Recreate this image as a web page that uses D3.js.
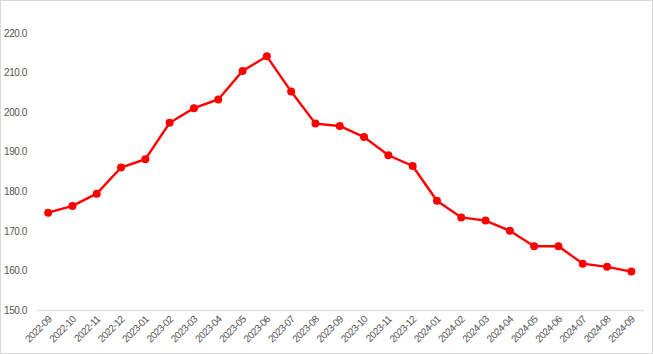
<!DOCTYPE html>
<html>
<head>
<title>Index chart</title>
<style>
  body { margin: 0; background: #fff; }
  svg text { font-family: "Liberation Sans", Arial, sans-serif; fill: #555555; }
</style>
<script type="text/javascript" src="https://d3js.org/d3.v7.min.js"></script>
</head>
<body>
<svg id="chart" width="653" height="354"></svg>
<script type="text/javascript">
const months = ["2022-09", "2022-10", "2022-11", "2022-12", "2023-01", "2023-02", "2023-03",
                "2023-04", "2023-05", "2023-06", "2023-07", "2023-08", "2023-09", "2023-10",
                "2023-11", "2023-12", "2024-01", "2024-02", "2024-03", "2024-04", "2024-05",
                "2024-06", "2024-07", "2024-08", "2024-09"];
const values = [174.6, 176.3, 179.4, 186.0, 188.1, 197.3, 201.0, 203.2, 210.4, 214.1, 205.2,
                197.1, 196.5, 193.7, 189.1, 186.4, 177.6, 173.4, 172.6, 170.0, 166.1, 166.1,
                161.7, 160.9, 159.7];
const yTicks = [150, 160, 170, 180, 190, 200, 210, 220];

const svg = d3.select("#chart");
const W = +svg.attr("width");
const H = +svg.attr("height");

// outer frame
svg.append("rect")
   .attr("x", 0.5).attr("y", 0.5)
   .attr("width", W - 1).attr("height", H - 1)
   .style("fill", "none")
   .style("stroke", "#d9d9d9");

const x = d3.scaleBand()
            .domain(months)
            .range([36, 643.5]);

const y = d3.scaleLinear()
            .domain([150, 220])
            .range([310, 33]);

// y labels only, no axis line and no grid
const yAxis = d3.axisLeft(y)
                .tickValues(yTicks)
                .tickSize(0)
                .tickPadding(0)
                .tickFormat(d3.format(".1f"));

const gy = svg.append("g")
              .attr("transform", "translate(27, 0)")
              .call(yAxis);
gy.select(".domain").remove();
gy.selectAll("text")
  .style("font-size", "10px")
  .style("letter-spacing", "-0.4px")
  .style("font-family", null);

// x baseline + rotated month labels
const xAxis = d3.axisBottom(x).tickSize(0).tickPadding(0);
const gx = svg.append("g")
              .attr("transform", "translate(0, 310)")
              .call(xAxis);
gx.select(".domain")
  .style("stroke", "#e3e3e3")
  .style("stroke-width", 1.5);
gx.selectAll("text")
  .style("font-size", "10px")
  .style("letter-spacing", "-0.6px")
  .style("font-family", null)
  .attr("text-anchor", "end")
  .attr("dy", null)
  .attr("transform", "translate(4, 10) rotate(-45)");

const line = d3.line()
               .x((d, i) => x(months[i]) + x.bandwidth() / 2)
               .y(d => y(d));

svg.append("path")
   .datum(values)
   .style("fill", "none")
   .style("stroke", "#ff0000")
   .style("stroke-width", 2.4)
   .attr("d", line);

svg.selectAll("circle.pt")
   .data(values)
   .enter()
   .append("circle")
   .attr("class", "pt")
   .attr("cx", (d, i) => x(months[i]) + x.bandwidth() / 2)
   .attr("cy", d => y(d))
   .attr("r", 4)
   .style("fill", "#ff0000");
</script>
</body>
</html>
